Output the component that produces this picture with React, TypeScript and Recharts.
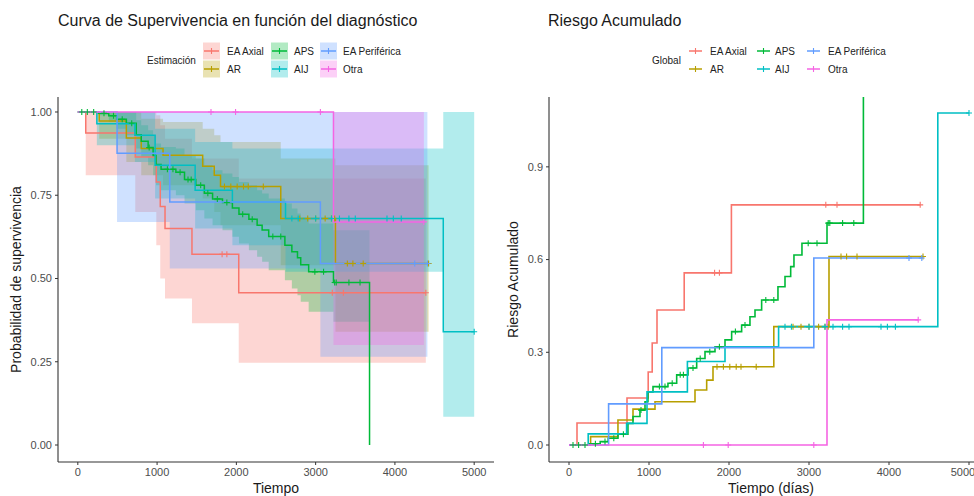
import React from 'react';
import { Area, ComposedChart, Line, Scatter, XAxis, YAxis } from 'recharts';

const FONT = '"Liberation Sans", Arial, Helvetica, sans-serif';

const groupNames = ['EA Axial', 'AR', 'APS', 'AIJ', 'EA Periférica', 'Otra'];
const groupColors = ['#F8766D', '#B79F00', '#00BA38', '#00BFC4', '#619CFF', '#F564E3'];

const timeTicks = [0, 1000, 2000, 3000, 4000, 5000];
const survTicks = [0, 0.25, 0.5, 0.75, 1];
const riskTicks = [0, 0.3, 0.6, 0.9];

// EA Axial
const axialTimes = [0, 100, 725, 990, 1040, 1100, 1440, 2030];
const axialSurv = [1, 0.937, 0.865, 0.79, 0.716, 0.65, 0.573, 0.457];
const axialLow = [1, 0.81, 0.7, 0.6, 0.5, 0.44, 0.366, 0.247];
const axialHigh = [1, 1, 1, 0.99, 0.96, 0.92, 0.86, 0.8];
const axialRisk = [0, 0.071, 0.152, 0.236, 0.33, 0.437, 0.557, 0.777];
const axialEnd = 4390;
const axialCens = [1820, 1880, 3210, 3350, 4390];

// AR
const arTimes = [0, 270, 612, 800, 1075, 1575, 1721, 1800, 2560, 3250];
const arSurv = [1, 0.973, 0.922, 0.89, 0.87, 0.837, 0.81, 0.776, 0.68, 0.545];
const arLow = [1, 0.92, 0.85, 0.81, 0.78, 0.74, 0.7, 0.66, 0.54, 0.34];
const arHigh = [1, 1, 1, 0.98, 0.97, 0.95, 0.93, 0.91, 0.86, 0.84];
const arRisk = [0, 0.027, 0.081, 0.116, 0.14, 0.178, 0.21, 0.253, 0.383, 0.61];
const arEnd = 4425;
const arCens = [1850, 1930, 2010, 2090, 2150, 2340, 2800, 2900, 3000, 3120, 3200, 3240, 3400, 3470, 3600, 4425];

// APS
const apsTimes = [0, 260, 390, 490, 612, 737, 800, 887, 950, 987, 1050, 1237, 1346, 1488, 1596, 1700, 1825, 1950, 2033, 2158, 2262, 2325, 2408, 2612, 2700, 2771, 2812, 2912, 3225, 3680];
const apsSurv = [1, 0.996, 0.989, 0.978, 0.966, 0.932, 0.912, 0.893, 0.869, 0.842, 0.828, 0.819, 0.797, 0.78, 0.756, 0.739, 0.728, 0.712, 0.693, 0.678, 0.66, 0.646, 0.626, 0.6, 0.58, 0.562, 0.541, 0.52, 0.488, 0];
const apsLow = [1, 0.99, 0.97, 0.95, 0.93, 0.89, 0.865, 0.84, 0.81, 0.78, 0.765, 0.75, 0.725, 0.705, 0.68, 0.66, 0.645, 0.625, 0.605, 0.585, 0.565, 0.55, 0.525, 0.495, 0.47, 0.45, 0.43, 0.4, 0.37];
const apsHigh = [1, 1, 1, 1, 1, 0.975, 0.96, 0.945, 0.93, 0.905, 0.895, 0.89, 0.87, 0.86, 0.84, 0.825, 0.815, 0.805, 0.79, 0.78, 0.765, 0.755, 0.74, 0.725, 0.71, 0.695, 0.68, 0.665, 0.645];
const apsRisk = [0, 0.004, 0.011, 0.022, 0.035, 0.07, 0.092, 0.113, 0.14, 0.172, 0.189, 0.2, 0.227, 0.249, 0.28, 0.302, 0.318, 0.34, 0.367, 0.388, 0.415, 0.437, 0.469, 0.512, 0.545, 0.577, 0.615, 0.653, 0.718, 1.13];
const apsCens = [50, 120, 200, 330, 450, 560, 680, 900, 1130, 1200, 1290, 1390, 1430, 1550, 1640, 1760, 1880, 2080, 2200, 2460, 2560, 2990, 3100, 3240, 3260, 3420, 3560];

// AIJ
const aijTimes = [0, 240, 720, 975, 1480, 1950, 2620, 4610];
const aijSurv = [1, 0.965, 0.93, 0.84, 0.765, 0.73, 0.68, 0.34];
const aijLow = [1, 0.9, 0.85, 0.74, 0.65, 0.6, 0.52, 0.085];
const aijHigh = [1, 1, 1, 0.95, 0.91, 0.89, 0.89, 1];
const aijRisk = [0, 0.036, 0.07, 0.172, 0.27, 0.318, 0.383, 1.074];
const aijEnd = 5000;
const aijCens = [2700, 2780, 3000, 3200, 3300, 3420, 3500, 3900, 3980, 4080, 5000];

// EA Periférica
const periTimes = [0, 495, 1160, 3060];
const periSurv = [1, 0.876, 0.73, 0.545];
const periLow = [1, 0.67, 0.53, 0.265];
const periHigh = [1, 1, 1, 1];
const periRisk = [0, 0.133, 0.315, 0.605];
const periEnd = 4410;
const periCens = [4250, 4410];

// Otra
const otraTimes = [0, 3225];
const otraSurv = [1, 0.67];
const otraLow = [1, 0.3];
const otraHigh = [1, 1];
const otraRisk = [0, 0.405];
const otraEnd = 4365;
const otraCens = [1680, 1990, 3060, 4365];

type Row = { t: number; v: number };

function stepRows(times: number[], vals: number[], end?: number): Row[] {
  const rows = times.map((t, i) => ({ t, v: vals[i] }));
  if (end !== undefined) rows.push({ t: end, v: vals[vals.length - 1] });
  return rows;
}

function bandRows(times: number[], low: number[], high: number[], end: number) {
  const rows = low.map((lo, i) => ({ t: times[i], band: [lo, high[i]] }));
  rows.push({ t: end, band: [low[low.length - 1], high[high.length - 1]] });
  return rows;
}

function censorRows(times: number[], vals: number[], cens: number[]): Row[] {
  return cens.map((c) => {
    let v = vals[0];
    times.forEach((t, i) => {
      if (t <= c) v = vals[i];
    });
    return { t: c, v };
  });
}

const series = [
  { times: axialTimes, surv: axialSurv, low: axialLow, high: axialHigh, risk: axialRisk, end: axialEnd, bandEnd: axialEnd, cens: axialCens },
  { times: arTimes, surv: arSurv, low: arLow, high: arHigh, risk: arRisk, end: arEnd, bandEnd: arEnd, cens: arCens },
  { times: apsTimes, surv: apsSurv, low: apsLow, high: apsHigh, risk: apsRisk, end: undefined, bandEnd: 3680, cens: apsCens },
  { times: aijTimes, surv: aijSurv, low: aijLow, high: aijHigh, risk: aijRisk, end: aijEnd, bandEnd: aijEnd, cens: aijCens },
  { times: periTimes, surv: periSurv, low: periLow, high: periHigh, risk: periRisk, end: periEnd, bandEnd: periEnd, cens: periCens },
  { times: otraTimes, surv: otraSurv, low: otraLow, high: otraHigh, risk: otraRisk, end: otraEnd, bandEnd: otraEnd, cens: otraCens },
];

const plus = (color: string) => (props: any) => {
  const { cx, cy } = props;
  if (cx == null || cy == null) return <g />;
  return (
    <path
      d={`M${cx - 3},${cy}H${cx + 3}M${cx},${cy - 3}V${cy + 3}`}
      stroke={color}
      strokeWidth={1.1}
      fill="none"
    />
  );
};

const axisProps = {
  axisLine: { stroke: '#333', strokeWidth: 1.1 },
  tickLine: { stroke: '#333' },
  tick: { fill: '#4D4D4D', fontSize: 11, fontFamily: FONT },
  tickSize: 3,
  tickMargin: 3,
};

function SurvivalChart() {
  return (
    <ComposedChart width={494} height={496} margin={{ top: 97, right: 0, bottom: 0, left: 0 }}>
      <XAxis
        dataKey="t"
        type="number"
        domain={[-250, 5250]}
        ticks={timeTicks}
        allowDataOverflow
        height={34}
        {...axisProps}
      />
      <YAxis
        type="number"
        domain={[-0.051, 1.045]}
        ticks={survTicks}
        tickFormatter={(v: number) => v.toFixed(2)}
        allowDataOverflow
        width={58}
        {...axisProps}
      />
      {series.map((s, i) => (
        <Area
          key={'band' + i}
          data={bandRows(s.times, s.low, s.high, s.bandEnd)}
          dataKey="band"
          type="stepAfter"
          stroke="none"
          fill={groupColors[i]}
          fillOpacity={0.3}
          isAnimationActive={false}
        />
      ))}
      {series.map((s, i) => (
        <Line
          key={'line' + i}
          data={stepRows(s.times, s.surv, s.end)}
          dataKey="v"
          type="stepAfter"
          stroke={groupColors[i]}
          strokeWidth={1.5}
          dot={false}
          isAnimationActive={false}
        />
      ))}
      {series.map((s, i) => (
        <Scatter
          key={'cens' + i}
          data={censorRows(s.times, s.surv, s.cens)}
          dataKey="v"
          shape={plus(groupColors[i])}
          isAnimationActive={false}
        />
      ))}
    </ComposedChart>
  );
}

function RiskChart() {
  return (
    <ComposedChart width={487} height={496} margin={{ top: 97, right: 0, bottom: 0, left: 0 }}>
      <XAxis
        dataKey="t"
        type="number"
        domain={[-250, 5062.5]}
        ticks={timeTicks}
        allowDataOverflow
        height={34}
        {...axisProps}
      />
      <YAxis
        type="number"
        domain={[-0.055, 1.126]}
        ticks={riskTicks}
        tickFormatter={(v: number) => v.toFixed(1)}
        allowDataOverflow
        width={62}
        {...axisProps}
      />
      {series.map((s, i) => (
        <Line
          key={'line' + i}
          data={stepRows(s.times, s.risk, s.end)}
          dataKey="v"
          type="stepAfter"
          stroke={groupColors[i]}
          strokeWidth={1.6}
          dot={false}
          isAnimationActive={false}
        />
      ))}
      {series.map((s, i) => (
        <Scatter
          key={'cens' + i}
          data={censorRows(s.times, s.risk, s.cens)}
          dataKey="v"
          shape={plus(groupColors[i])}
          isAnimationActive={false}
        />
      ))}
    </ComposedChart>
  );
}

function LegendBlock(props: {
  title: string;
  titleX: number;
  keyX: number[];
  textX: number[];
  keyW: number;
  filled: boolean;
}) {
  const rows = [51, 69];
  return (
    <g fontFamily={FONT} fontSize={10}>
      <text x={props.titleX} y={60} dominantBaseline="central" fill="#222">
        {props.title}
      </text>
      {groupNames.map((name, i) => {
        const col = Math.floor(i / 2);
        const cy = rows[i % 2];
        const kx = props.keyX[col];
        const color = groupColors[i];
        return (
          <g key={name}>
            {props.filled && (
              <rect x={kx} y={cy - 8.5} width={props.keyW} height={17} fill={color} fillOpacity={0.3} />
            )}
            <line x1={kx + 1} x2={kx + props.keyW - 1} y1={cy} y2={cy} stroke={color} strokeWidth={1.5} />
            <line x1={kx + props.keyW / 2} x2={kx + props.keyW / 2} y1={cy - 3} y2={cy + 3} stroke={color} strokeWidth={1.1} />
            <text x={props.textX[col]} y={cy} dominantBaseline="central" fill="#222">
              {name}
            </text>
          </g>
        );
      })}
    </g>
  );
}

export default function App() {
  return (
    <div style={{ position: 'absolute', left: 0, top: 0, width: 974, height: 496, background: '#fff', overflow: 'hidden' }}>
      <div style={{ position: 'absolute', left: 0, top: 0 }}>
        <SurvivalChart />
      </div>
      <div style={{ position: 'absolute', left: 487, top: 0 }}>
        <RiskChart />
      </div>
      <svg
        width={974}
        height={496}
        style={{ position: 'absolute', left: 0, top: 0, pointerEvents: 'none' }}
      >
        <g fontFamily={FONT} fill="#1a1a1a">
          <text x={58} y={26} fontSize={16}>Curva de Supervivencia en función del diagnóstico</text>
          <text x={548} y={26} fontSize={16}>Riesgo Acumulado</text>
          <text x={276} y={493} fontSize={14} textAnchor="middle">Tiempo</text>
          <text x={771} y={493} fontSize={14} textAnchor="middle">Tiempo (días)</text>
          <text x={21} y={279.5} fontSize={14} textAnchor="middle" transform="rotate(-90 21 279.5)">
            Probabilidad de supervivencia
          </text>
          <text x={518} y={279.5} fontSize={14} textAnchor="middle" transform="rotate(-90 518 279.5)">
            Riesgo Acumulado
          </text>
        </g>
        <LegendBlock title="Estimación" titleX={147} keyX={[203, 271, 320]} textX={[227, 294, 343]} keyW={17} filled />
        <LegendBlock title="Global" titleX={652} keyX={[688, 756, 806]} textX={[710, 775, 828]} keyW={15} filled={false} />
      </svg>
    </div>
  );
}
